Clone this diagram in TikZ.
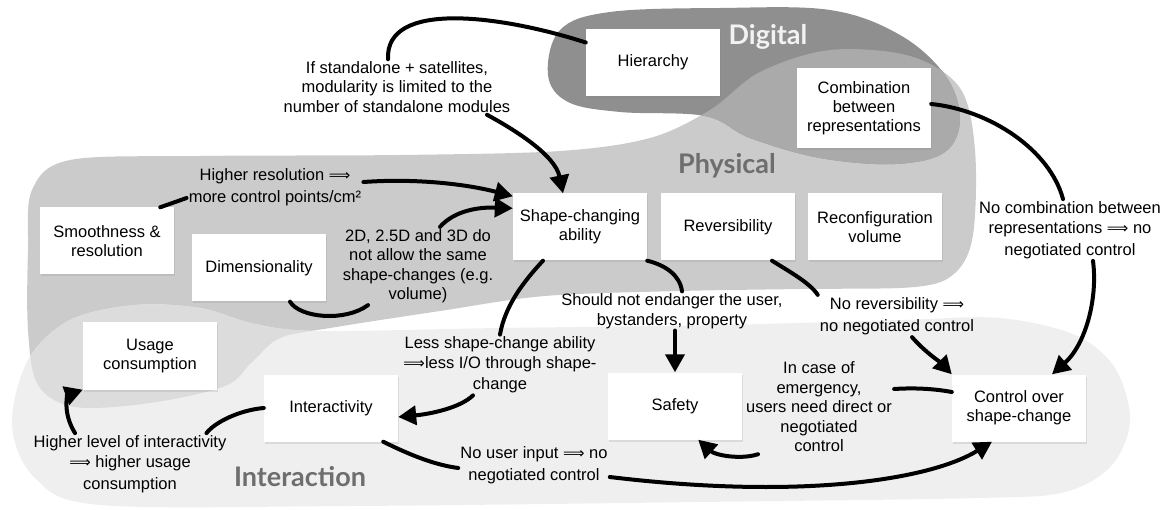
\documentclass[tikz,border=0pt]{standalone}
\usepackage{fontspec}
\setmainfont{Liberation Sans}
\newfontfamily\regionfont{Lato}
\newfontfamily\arrowfont{DejaVu Sans}
\usetikzlibrary{arrows.meta,shadows}

\definecolor{digitalgray}{HTML}{8F8F8F}
\definecolor{physgray}{HTML}{CBCBCB}
\definecolor{digphysgray}{HTML}{AAAAAA}
\definecolor{intergray}{HTML}{EFEFEF}
\definecolor{physintergray}{HTML}{DCDCDC}
\definecolor{regiontext}{HTML}{6E6E6E}

\newcommand{\thenarrow}{{\arrowfont\fontsize{15}{19}\selectfont ⟹}}

\tikzset{
  box/.style={fill=white, minimum width=134pt, minimum height=67pt, align=center,
    font=\fontsize{16.5}{19}\selectfont,
    drop shadow={shadow xshift=1pt, shadow yshift=-2pt, opacity=0.18}},
  lbl/.style={align=center, inner sep=2pt, font=\fontsize{16.5}{19.5}\selectfont},
  conn/.style={line width=4pt, line cap=round},
  arr/.style={conn, -{Triangle[length=18pt,width=19pt]}},
  region/.style={font=\fontsize{27}{30}\selectfont\regionfont\bfseries, text=regiontext}
}

% the three regions
\newcommand{\digitalblob}{plot[smooth cycle, tension=0.6] coordinates {(548,75) (560,30) (610,12) (720,8) (830,10) (900,35) (945,75) (960,118) (945,152) (895,164) (820,158) (750,138) (705,116) (620,112) (568,102)}}
\newcommand{\physicalblob}{plot[smooth cycle, tension=0.55] coordinates {(28,250) (32,190) (70,160) (200,156) (400,155) (560,151) (650,138) (710,110) (760,72) (830,50) (910,56) (960,88) (975,150) (973,235) (955,273) (915,287) (800,289) (680,291) (545,296) (440,311) (330,328) (280,338) (252,362) (225,386) (150,403) (75,407) (38,385) (28,330)}}
\newcommand{\interactionblob}{plot[smooth cycle, tension=0.55] coordinates {(12,425) (28,360) (70,320) (135,305) (200,308) (255,324) (320,331) (500,328) (720,325) (900,320) (1000,318) (1075,335) (1115,368) (1130,420) (1112,465) (1065,492) (980,498) (700,502) (350,506) (100,505) (35,478)}}

\begin{document}
\begin{tikzpicture}[x=1pt, y=-1pt]
\useasboundingbox (0,0) rectangle (1161,510);

% Regions
\fill[physgray] \physicalblob;
\fill[digitalgray] \digitalblob;
\begin{scope}
  \clip \digitalblob;
  \fill[digphysgray] \physicalblob;
\end{scope}
\fill[intergray] \interactionblob;
\begin{scope}
  \clip \physicalblob;
  \fill[physintergray] \interactionblob;
\end{scope}

\node[region, text=white!95!black] (digital) at (768,37) {Digital};
\node[region] (physical) at (727,166) {Physical};
\node[region] (interaction) at (300,477) {Interaction};

% Factors
\node[box] (hier) at (653,62.5) {Hierarchy};
\node[box, minimum height=80pt] (comb) at (864,108) {Combination\\between\\representations};
\node[box] (shape) at (580,227) {Shape-changing\\ability};
\node[box] (revers) at (728,227) {Reversibility};
\node[box] (reconf) at (875,227) {Reconfiguration\\volume};
\node[box] (smooth) at (107,241) {Smoothness \&\\resolution};
\node[box] (dimen) at (259,268) {Dimensionality};
\node[box] (usage) at (150,356) {Usage\\consumption};
\node[box] (inter) at (331,408) {Interactivity};
\node[box] (safety) at (675,406) {Safety};
\node[box] (control) at (1019,408) {Control over\\shape-change};

% Relations
\node[lbl] (lsat) at (397,87) {If standalone + satellites,\\modularity is limited to the\\number of standalone modules};
\node[lbl] (lres) at (275,187) {Higher resolution \thenarrow\\[3pt]more control points/cm²};
\node[lbl] (ldim) at (418,266) {2D, 2.5D and 3D do\\not allow the same\\shape-changes (e.g.\\volume)};
\node[lbl] (lless) at (500,365) {Less shape-change ability\\\thenarrow less I/O through shape-\\[2pt]change};
\node[lbl] (lsafe) at (672,311) {Should not endanger the user,\\bystanders, property};
\node[lbl] (lrev) at (897,316) {No reversibility \thenarrow\\[3pt]no negotiated control};
\node[lbl] (lcomb) at (1070,230) {No combination between\\[1pt]representations \thenarrow\ no\\[2pt]negotiated control};
\node[lbl] (lemerg) at (819,407) {In case of\\emergency,\\users need direct or\\negotiated\\control};
\node[lbl] (lusage) at (130,464) {Higher level of interactivity\\[1pt]\thenarrow\ higher usage\\[2pt]consumption};
\node[lbl] (linput) at (534,465) {No user input \thenarrow\ no\\[3pt]negotiated control};

% Connectors
\draw[conn] ([yshift=20pt]hier.west) .. controls (500,15) and (385,0) .. ([xshift=-9pt]lsat.north);
\draw[arr] ([xshift=90pt]lsat.south) .. controls (515,130) and (555,155) .. ([xshift=-17pt]shape.north);

\draw[conn] ([xshift=-14pt]smooth.north east) -- ([yshift=-11pt]lres.west);
\draw[arr] ([yshift=5pt]lres.east) .. controls (420,178) and (470,185) .. ([yshift=-3pt]shape.north west);

\draw[conn] ([xshift=31pt]dimen.south) .. controls (300,318) and (345,322) .. ([xshift=-50pt]ldim.south);
\draw[arr] ([xshift=22pt]ldim.north) .. controls (455,210) and (480,207) .. ([yshift=-15pt]shape.north west);

\draw[conn] ([xshift=-37pt]shape.south) .. controls (525,280) and (505,305) .. (lless.north);
\draw[arr] ([xshift=-27pt]lless.south) .. controls (460,408) and (430,414) .. ([yshift=-9pt]inter.east);

\draw[conn] (shape.south east) .. controls (665,265) and (680,275) .. ([xshift=10pt]lsafe.north);
\draw[arr] (lsafe.south -| safety.north) -- (safety.north);

\draw[conn] ([xshift=44pt]revers.south) .. controls (790,272) and (810,283) .. (lrev.north west);
\draw[arr] ([xshift=15pt]lrev.south) .. controls (925,352) and (940,362) .. (control.north west);

\draw[conn] ([yshift=4pt]comb.east) .. controls (990,110) and (1050,150) .. ([xshift=-7pt]lcomb.north);
\draw[arr] ([xshift=23pt]lcomb.south) .. controls (1098,300) and (1085,345) .. ([xshift=33pt]control.north);

\draw[conn] ([yshift=16pt]control.west) .. controls (930,388) and (910,388) .. ([yshift=18pt]lemerg.east);
\draw[arr] ([xshift=-61pt]lemerg.south) .. controls (740,460) and (715,455) .. ([xshift=-44pt]safety.south east);

\draw[conn] (inter.west) .. controls (240,410) and (215,422) .. ([xshift=-22pt]lusage.north east);
\draw[arr] ([xshift=-55pt]lusage.north) .. controls (62,412) and (68,395) .. (usage.south west);

\draw[conn] ([xshift=-15pt]inter.south east) .. controls (410,455) and (435,465) .. ([yshift=-3pt]linput.west);
\draw[arr] ([yshift=-12pt]linput.east) .. controls (800,500) and (930,480) .. ([xshift=-27pt]control.south);

\end{tikzpicture}
\end{document}
